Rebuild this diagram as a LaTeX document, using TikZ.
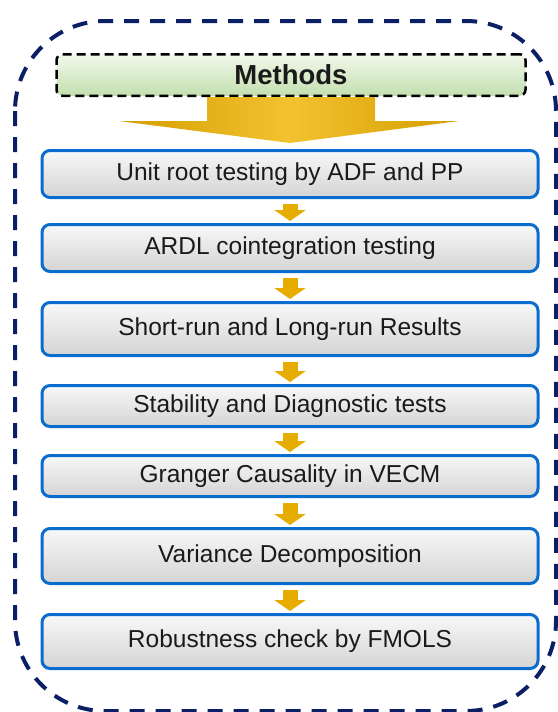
\documentclass[tikz,border=0pt]{standalone}
\usepackage{fontspec}
\setmainfont{Liberation Sans}
\usetikzlibrary{arrows.meta}

\definecolor{navy}{HTML}{0B1F66}
\definecolor{boxblue}{HTML}{0A6CCD}
\definecolor{boxtop}{HTML}{F8F8F8}
\definecolor{boxbot}{HTML}{D4D4D4}
\definecolor{textgray}{HTML}{1A1A1A}
\definecolor{arrowgold}{HTML}{E6AC00}
\definecolor{golddark}{HTML}{D49E00}
\definecolor{goldlight}{HTML}{F2C230}
\definecolor{greentop}{HTML}{F2F8EC}
\definecolor{greenbot}{HTML}{C3DFAE}

\begin{document}
\begin{tikzpicture}[x=1pt,y=-1pt,
    stepbox/.style={rectangle, rounded corners=8pt, draw=boxblue, line width=3pt,
        top color=boxtop, bottom color=boxbot, minimum width=496pt,
        text=textgray, font=\fontsize{24.5}{28}\selectfont, inner sep=0pt},
    headbox/.style={rectangle, rounded corners=6pt, draw=black, dashed, line width=2.5pt,
        dash pattern=on 9pt off 5pt, top color=greentop, bottom color=greenbot,
        minimum width=469pt, minimum height=41.5pt, text=textgray,
        font=\bfseries\fontsize{27.5}{31}\selectfont},
    flow/.style={draw=arrowgold, line width=15pt,
        -{Triangle[width=31pt,length=11pt]}, shorten <=5pt, shorten >=2pt}]

    \useasboundingbox (0,0) rectangle (557,712);

    % Outer frame
    \draw[navy, line width=4pt, dash pattern=on 15pt off 11pt, rounded corners=90pt]
        (15,21) rectangle (556,711);

    % Heading
    \node[headbox] (methods) at (291,75) {Methods};

    % Steps
    \node[stepbox, minimum height=47pt] (unitroot) at (290,174) {Unit root testing by ADF and PP};
    \node[stepbox, minimum height=47pt] (ardl)     at (290,248) {ARDL cointegration testing};
    \node[stepbox, minimum height=53pt] (shortrun) at (290,329) {Short-run and Long-run Results};
    \node[stepbox, minimum height=41pt] (diag)     at (290,406) {Stability and Diagnostic tests};
    \node[stepbox, minimum height=41pt] (granger)  at (290,476) {Granger Causality in VECM};
    \node[stepbox, minimum height=55pt] (variance) at (290,556) {Variance Decomposition};
    \node[stepbox, minimum height=54pt] (fmols)    at (290,641.5) {Robustness check by FMOLS};

    % Big arrow
    \shade[left color=golddark, right color=golddark, middle color=goldlight]
        ([xshift=-84pt]methods.south) -- ([xshift=84pt]methods.south)
        -- ([xshift=84pt,yshift=-24pt]methods.south)
        -- ([xshift=168pt,yshift=-24pt]methods.south)
        -- ([yshift=6pt]unitroot.north)
        -- ([xshift=-172pt,yshift=-24pt]methods.south)
        -- ([xshift=-84pt,yshift=-24pt]methods.south) -- cycle;

    % Small arrows
    \foreach \a/\b in {unitroot/ardl, ardl/shortrun, shortrun/diag,
                       diag/granger, granger/variance, variance/fmols}
        \draw[flow] (\a) -- (\b);
\end{tikzpicture}
\end{document}
